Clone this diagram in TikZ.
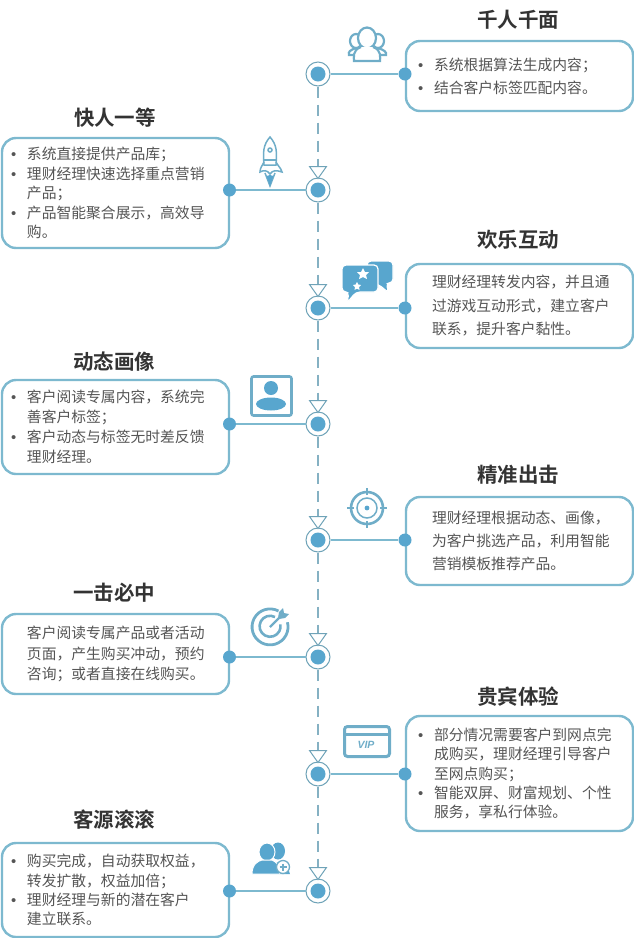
\documentclass[tikz,border=0pt]{standalone}
\usepackage{fontspec}
\setmainfont{Noto Sans CJK SC}
\newfontfamily\cjk{Noto Sans CJK SC}
\newfontfamily\cjkb{Noto Sans CJK SC Bold}
\newfontfamily\latin{Liberation Sans}
\definecolor{edge}{HTML}{7DB9CF}
\definecolor{dot}{HTML}{58A6CE}
\definecolor{icon}{HTML}{6FADC8}
\definecolor{ring}{HTML}{6FA3B8}
\definecolor{body}{HTML}{555555}
\definecolor{head}{HTML}{333333}
\newcommand\bl{\makebox[16pt][l]{\latin •}}
\newcommand\ind{\hspace*{16pt}}
\newcommand\inds{\hspace*{14pt}}
\tikzset{
  infobox/.style={draw=edge,line width=2.4pt,rounded corners=14pt,fill=white,minimum width=227pt,
    text width=209pt,inner xsep=9pt,inner ysep=0pt,align=left,text=body},
  rightbox/.style={infobox,text width=203pt,inner xsep=12pt},
  lead/.style={font=\cjk\fontsize{14.8}{#1}\selectfont},
  title/.style={font=\cjkb\fontsize{20.5}{24}\selectfont,text=head,inner sep=0pt},
  stepring/.style={circle,draw=ring,line width=1pt,fill=white,minimum size=24pt,inner sep=0pt},
  stepdot/.style={circle,fill=dot,minimum size=15pt,inner sep=0pt},
  enddot/.style={circle,fill=dot,minimum size=13pt,inner sep=0pt},
  conn/.style={draw=edge,line width=2.2pt},
  dashconn/.style={draw=ring!85!white,line width=2.6pt,dash pattern=on 11.5pt off 6.5pt},
  tip/.style={draw=ring,line width=1pt,fill=white,line join=miter},
  ico/.style={draw=icon,line width=2pt,fill=none},
  icof/.style={fill=dot,draw=none},
}
\begin{document}
\begin{tikzpicture}[x=1pt,y=-1pt]
\useasboundingbox (0,0) rectangle (634,938);
% boxes
\node[rightbox,lead=23pt,minimum height=70pt] (b1) at (519.5,76) {\bl 系统根据算法生成内容；\\\bl 结合客户标签匹配内容。};
\node[infobox,lead=19.4pt,minimum height=110pt] (b2) at (115.5,193) {\bl 系统直接提供产品库；\\\bl 理财经理快速选择重点营销\\\ind 产品；\\\bl 产品智能聚合展示，高效导\\\ind 购。};
\node[rightbox,lead=23.5pt,minimum height=84pt] (b3) at (519.5,306) {\inds 理财经理转发内容，并且通\\\inds 过游戏互动形式，建立客户\\\inds 联系，提升客户黏性。};
\node[infobox,lead=20pt,minimum height=94pt] (b4) at (115.5,427) {\bl 客户阅读专属内容，系统完\\\ind 善客户标签；\\\bl 客户动态与标签无时差反馈\\\ind 理财经理。};
\node[rightbox,lead=23pt,minimum height=88pt] (b5) at (519.5,541) {\inds 理财经理根据动态、画像，\\\inds 为客户挑选产品，利用智能\\\inds 营销模板推荐产品。};
\node[infobox,lead=20.5pt,minimum height=80pt] (b6) at (115.5,654) {\ind 客户阅读专属产品或者活动\\\ind 页面，产生购买冲动，预约\\\ind 咨询；或者直接在线购买。};
\node[rightbox,lead=19.3pt,minimum height=115pt] (b7) at (519.5,773.5) {\bl 部分情况需要客户到网点完\\\ind 成购买，理财经理引导客户\\\ind 至网点购买；\\\bl 智能双屏、财富规划、个性\\\ind 服务，享私行体验。};
\node[infobox,lead=19.2pt,minimum height=94pt] (b8) at (115.5,890) {\bl 购买完成，自动获取权益，\\\ind 转发扩散，权益加倍；\\\bl 理财经理与新的潜在客户\\\ind 建立联系。};
% titles
\node[title] (t1) at (518,20) {千人千面};
\node[title] (t2) at (115,118) {快人一等};
\node[title] (t3) at (518,240) {欢乐互动};
\node[title] (t4) at (114,362) {动态画像};
\node[title] (t5) at (518,475) {精准出击};
\node[title] (t6) at (114,593) {一击必中};
\node[title] (t7) at (518,697) {贵宾体验};
\node[title] (t8) at (114,820) {客源滚滚};
% rings and end dots
\foreach \i/\y/\x in {1/74/405,2/190/229.5,3/308/405,4/424/229.5,5/540/405,6/657/229.5,7/774/405,8/891/229.5}{
  \node[stepring] (n\i) at (318,\y) {};
  \node[stepdot] (c\i) at (318,\y) {};
  \node[enddot] (d\i) at (\x,\y) {};
  \draw[conn] (n\i) -- (d\i);
}
% dashed connectors with hollow triangular tips
\foreach \i/\j in {1/2,2/3,3/4,4/5,5/6,6/7,7/8}{
  \draw[dashconn] (n\i) -- (n\j);
  \draw[tip] ([shift={(-8.5,-23.5)}]n\j.center) -- ([shift={(8.5,-23.5)}]n\j.center) -- ([shift={(0,-11.5)}]n\j.center) -- cycle;
}
% people icon
\begin{scope}[ico,line width=2.2pt]
  \draw (356,41) circle[x radius=6,y radius=7];
  \draw (378,41) circle[x radius=6,y radius=7];
  \draw[fill=white] (367,38) circle[x radius=9,y radius=10.5];
  \draw (356,48) .. controls (350,50) and (348,52) .. (349,55) -- (357,55);
  \draw (378,48) .. controls (384,50) and (387,52) .. (386,55) -- (377,55);
  \draw[fill=white] (361,47) .. controls (352,50) and (354,58) .. (354,61) -- (380,61) .. controls (380,58) and (382,50) .. (373,47);
\end{scope}
% rocket
\begin{scope}[ico,line width=1.5pt]
  \draw (270,137) .. controls (263,145) and (263,152) .. (264,165) -- (276,165) .. controls (277,152) and (277,145) .. (270,137) -- cycle;
  \draw (270,150) circle[radius=2];
  \draw (264,160) -- (276,160);
  \draw (264,162) .. controls (262,166) and (260,168) .. (260,172) .. controls (264,170) and (267,170) .. (270,174) .. controls (273,170) and (276,170) .. (282,172) .. controls (281,168) and (278,166) .. (276,162);
  \draw (265,173) -- (270,186) -- (275,173);
\end{scope}
\fill[icof] (270,186) -- (266.5,176) -- (270,175) -- (273.5,176) -- cycle;
% chat icon
\path[ico,line width=1.2pt,fill=dot,draw=white,rounded corners=4pt] (367,261) -- (393,261) -- (393,283) -- (386,283) -- (389,293) -- (378,284) -- (367,284) -- cycle;
\path[fill=dot,draw=white,line width=1.2pt,rounded corners=4pt] (342,265) -- (378,265) -- (378,292) -- (356,292) -- (347,303) -- (349,292) -- (342,292) -- cycle;
\fill[white] (363,268) -- (365,272) -- (369,272) -- (366,275) -- (367,279) -- (363,277) -- (359,279) -- (360,275) -- (357,272) -- (361,272) -- cycle;
\fill[white] (357,282) -- (358.3,284.5) -- (361,285) -- (359,287) -- (359.5,290) -- (357,288.7) -- (354.5,290) -- (355,287) -- (353,285) -- (355.7,284.5) -- cycle;
% portrait icon
\draw[ico,line width=2.6pt,rounded corners=2pt] (251.5,376.5) rectangle (291.5,415.5);
\fill[icof] (271,388) circle[radius=7];
\fill[icof] (271,404) circle[x radius=15,y radius=6.5];
% target icon
\begin{scope}[ico]
  \draw[line width=2.6pt] (367,508) circle[radius=16];
  \draw[line width=1.5pt] (367,508) circle[radius=10];
  \foreach \a in {0,90,180,270}{\draw[line width=2.2pt] (367,508) ++(\a:13) -- ++(\a:7);}
\end{scope}
\fill[icof] (367,508) circle[radius=2.4];
% dart icon
\begin{scope}[ico,line cap=butt]
  \draw[line width=2.8pt] (278.5,611) arc[start angle=-62,end angle=-375,radius=18];
  \draw[line width=2.6pt] (275,617) arc[start angle=-62,end angle=-370,radius=10.5];
  \draw[line width=2.4pt] (270,627) -- (279,618);
\end{scope}
\fill[icon] (278,618) -- (279,612) -- (283,608) -- (284,613) -- (289,614) -- (285,618) -- (279,619) -- cycle;
% VIP icon
\draw[ico,line width=3pt,rounded corners=3pt] (344.5,726.5) rectangle (389.5,756.5);
\draw[ico,line width=2.4pt] (344.5,734.5) -- (389.5,734.5);
\node[text=icon,inner sep=0pt,font=\latin\bfseries\itshape\fontsize{10.5}{12}\selectfont] (vip) at (366,745) {VIP};
% new-customer icon
\fill[icof] (278,851) circle[x radius=7,y radius=8.5];
\fill[icof] (270,874) .. controls (271,860) and (280,862) .. (286,862) -- (290,874) -- cycle;
\fill[icof,draw=white,line width=1pt] (267,852) circle[x radius=8,y radius=9];
\fill[icof,draw=white,line width=1pt] (252,874) .. controls (252,864) and (258,861) .. (262,860) -- (272,860) .. controls (277,862) and (280,866) .. (280,874) -- cycle;
\draw[icon,fill=white,line width=1.3pt] (283,867) circle[radius=6.5];
\draw[icon,line width=1.3pt] (279.5,867) -- (286.5,867) (283,863.5) -- (283,870.5);
\end{tikzpicture}
\end{document}
